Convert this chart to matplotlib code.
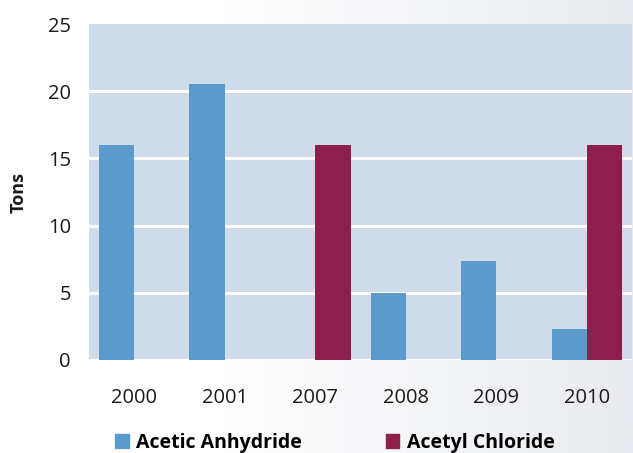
import matplotlib
matplotlib.use("Agg")
import matplotlib.pyplot as plt
import numpy as np
from matplotlib.colors import LinearSegmentedColormap
from matplotlib.patches import Patch

# Data
years = ["2000", "2001", "2007", "2008", "2009", "2010"]
acetic_anhydride = [16.0, 20.5, 0.0, 5.0, 7.4, 2.3]
acetyl_chloride = [0.0, 0.0, 16.0, 0.0, 0.0, 16.0]
y_ticks = [0, 5, 10, 15, 20, 25]

COL_AA = "#5b9aca"
COL_AC = "#8e1e4a"
COL_BG = "#cfdcea"
TXT = "#1a1a1a"

plt.rcParams["font.family"] = ["Open Sans", "DejaVu Sans"]

fig = plt.figure(figsize=(6.33, 4.53), dpi=100)

# soft horizontal gradient behind everything
bg = fig.add_axes([0, 0, 1, 1], zorder=-10)
grad = np.linspace(0, 1, 256).reshape(1, -1)
cmap = LinearSegmentedColormap.from_list(
    "bg", [(0, "#ffffff"), (0.35, "#ffffff"), (1, "#e9ebf0")])
bg.imshow(grad, aspect="auto", cmap=cmap, extent=[0, 1, 0, 1])
bg.axis("off")

ax = fig.add_axes([0.1406, 0.2053, 0.858, 0.7417])
ax.set_facecolor(COL_BG)

x = np.arange(len(years))
w = 0.39
ax.bar(x - w / 2, acetic_anhydride, w, color=COL_AA, zorder=3)
ax.bar(x + w / 2, acetyl_chloride, w, color=COL_AC, zorder=3)

ax.set_xlim(-0.5, len(years) - 0.5)
ax.set_ylim(0, 25)
ax.set_yticks(y_ticks)
ax.set_xticks(x)
ax.set_xticklabels(years)
for t in y_ticks[:-1]:
    ax.axhline(t, color="white", linewidth=2.2, zorder=2)

for s in ax.spines.values():
    s.set_visible(False)
ax.tick_params(axis="both", length=0, labelsize=14.5, colors=TXT)
ax.tick_params(axis="y", pad=13)
ax.tick_params(axis="x", pad=20)
ax.set_ylabel("Tons", fontsize=13, fontweight="bold", color=TXT)
ax.yaxis.set_label_coords(-0.113, 0.5)

handles = [Patch(color=COL_AA, label="Acetic Anhydride"),
           Patch(color=COL_AC, label="Acetyl Chloride")]
fig.legend(handles=handles, loc="center left", bbox_to_anchor=(0.154, 0.022),
           ncol=2, frameon=False, handlelength=0.7, handleheight=0.7,
           handletextpad=0.4, columnspacing=4.3,
           prop={"weight": "bold", "size": 14})

fig.savefig("out.png", dpi=100)
